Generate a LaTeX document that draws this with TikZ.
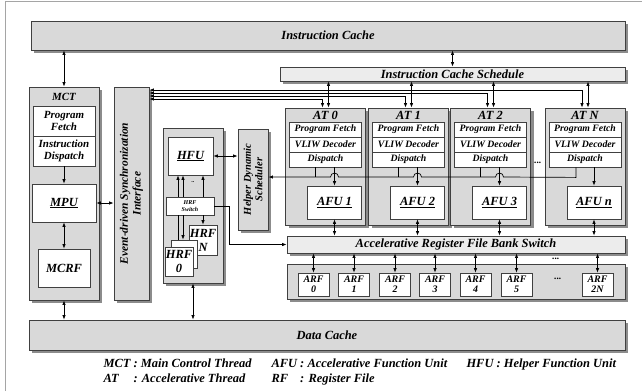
\documentclass[tikz,border=0pt]{standalone}
\usepackage{fontspec}
\setmainfont{Liberation Serif}
\usetikzlibrary{shadows,calc,arrows.meta}

\definecolor{boxc}{RGB}{217,217,217}
\definecolor{lightc}{RGB}{236,236,236}
\definecolor{linec}{RGB}{64,64,64}
\definecolor{shadowc}{RGB}{140,140,140}
\definecolor{framec}{RGB}{165,165,165}

\begin{document}
\begin{tikzpicture}[
    x=1bp, y=-1bp,
    graybox/.style={draw=linec, fill=boxc, line width=0.9pt, inner sep=0pt, drop shadow={shadow xshift=3bp, shadow yshift=-3bp, fill=shadowc, opacity=1}},
    lightbox/.style={graybox, fill=lightc},
    whitebox/.style={draw=linec, fill=white, line width=0.8pt, inner sep=0pt, align=center},
    bigtxt/.style={font=\bfseries\itshape\fontsize{12.5}{14}\selectfont},
    mcttxt/.style={font=\bfseries\itshape\fontsize{11}{12.5}\selectfont},
    attxt/.style={font=\bfseries\itshape\fontsize{9.8}{11}\selectfont},
    sidetxt/.style={font=\bfseries\itshape\fontsize{11.5}{13}\selectfont},
    hdstxt/.style={font=\bfseries\itshape\fontsize{10.5}{11.5}\selectfont},
    arftxt/.style={font=\bfseries\itshape\fontsize{10}{10}\selectfont},
    swtxt/.style={font=\bfseries\itshape\fontsize{6}{6.5}\selectfont},
    arrow/.style={-{Latex[length=4.5bp,width=3.5bp]}, line width=0.7pt},
    darrow/.style={{Latex[length=4.5bp,width=3.5bp]}-{Latex[length=4.5bp,width=3.5bp]}, line width=0.7pt}
]
    \useasboundingbox (0,0) rectangle (642,391);
    \draw[framec] (5,391) -- (5,1) -- (642,1);

    % caches
    \node[graybox, bigtxt, minimum width=594bp, minimum height=29bp] (icache) at (328,35.5) {Instruction Cache};
    \node[lightbox, bigtxt, minimum width=345bp, minimum height=14bp] (ics) at (452.5,74) {Instruction Cache Schedule};
    \node[graybox, bigtxt, minimum width=596bp, minimum height=30bp] (dc) at (327,335) {Data Cache};

    % main control thread
    \node[graybox, minimum width=70bp, minimum height=213bp] (mct) at (64,193.5) {};
    \node[mcttxt] (mctt) at (64,97) {MCT};
    \node[whitebox, mcttxt, minimum width=62bp, minimum height=30bp] (mctpf) at (64,121) {Program\\Fetch};
    \node[whitebox, mcttxt, minimum width=62bp, minimum height=30bp] (mctid) at (64,151) {Instruction\\Dispatch};
    \node[whitebox, bigtxt, minimum width=64bp, minimum height=38bp] (mpu) at (64,203) {\underline{MPU}};
    \node[whitebox, bigtxt, minimum width=52bp, minimum height=38bp] (mcrf) at (64,268) {MCRF};

    \node[graybox, minimum width=35bp, minimum height=213bp] (sync) at (131.5,193.5) {};
    \node[sidetxt, rotate=90, align=center] (synct) at (sync.center) {Event-driven Synchronization\\Interface};

    % helper
    \node[graybox, minimum width=60bp, minimum height=155bp] (hfuo) at (193,205.5) {};
    \node[whitebox, bigtxt, minimum width=45bp, minimum height=38bp] (hfu) at (190.5,156) {\underline{HFU}};
    \node[whitebox, swtxt, minimum width=48bp, minimum height=18bp] (hrfsw) at (190,206) {HRF\\Switch};
    \node[whitebox, bigtxt, minimum width=28bp, minimum height=30bp] (hrfn) at (203,240) {HRF\\N};
    \node[whitebox, minimum width=26bp, minimum height=28bp] (hrfb) at (184,254) {};
    \node[whitebox, bigtxt, minimum width=28bp, minimum height=29bp] (hrf0) at (179,261.5) {HRF\\0};
    \node[graybox, minimum width=30bp, minimum height=101bp] (hds) at (253,179.5) {};
    \node[hdstxt, rotate=90, align=center] (hdst) at (hds.center) {Helper Dynamic\\Scheduler};

    % register files
    \node[lightbox, bigtxt, minimum width=338bp, minimum height=17bp] (bsw) at (456,244.5) {Accelerative Register File Bank Switch};
    \node[graybox, minimum width=338bp, minimum height=35bp] (arfbank) at (456,281.5) {};
    \foreach \i/\cx in {0/313.5, 1/354, 2/395, 3/435, 4/475.5, 5/516.5, 2N/597.5} {
        \node[whitebox, arftxt, minimum width=31bp, minimum height=23bp] (arf\i) at (\cx,284.5) {ARF\\\i};
        \draw[darrow] (arf\i.north) -- (arf\i.north |- bsw.south);
    }
    \node[attxt] (adots) at (558,279) {...};
    \node[attxt, inner sep=0pt] (sdots) at (556,258.5) {...};

    % accelerative threads
    \foreach \i/\cx/\at/\afu in {0/325.5/AT 0/AFU 1, 1/408.5/AT 1/AFU 2, 2/490.5/AT 2/AFU 3, 3/585/AT N/AFU n} {
        \node[graybox, minimum width=80bp, minimum height=117bp] (at\i) at (\cx,166.5) {};
        \node[bigtxt] (att\i) at (\cx,115) {\at};
        \node[whitebox, attxt, minimum width=72bp, minimum height=15bp] (pf\i) at (\cx,129.5) {Program Fetch};
        \node[whitebox, attxt, minimum width=72bp, minimum height=15bp] (vd\i) at (\cx,144.5) {VLIW Decoder};
        \node[whitebox, attxt, minimum width=72bp, minimum height=15bp] (dp\i) at (\cx,159.5) {Dispatch};
        \node[whitebox, bigtxt, minimum width=54bp, minimum height=33bp] (afu\i) at (\cx+9,202.5) {\underline{\afu}};
        \draw[arrow] (dp\i.south -| afu\i) -- (afu\i.north);
        \draw[darrow] (afu\i.south) -- (afu\i.south |- bsw.north);
        \draw[darrow] ([xshift=3bp]at\i.north |- ics.south) -- ([xshift=3bp]at\i.north);
    }
    \node[attxt] (ddots) at (538,163) {...};

    % connections
    \draw[darrow] (icache.south -| ics.north) -- (ics.north);
    \draw[darrow] (icache.south -| mct.north) -- (mct.north);
    \draw[arrow] (mctid.south) -- (mpu.north);
    \draw[darrow] (mpu.south) -- (mcrf.north);
    \draw[darrow] (mpu.east) -- (mpu.east -| sync.west);
    \draw[darrow] (mct.south) -- (mct.south |- dc.north);
    \draw[darrow] (hfuo.south) -- (hfuo.south |- dc.north);
    \draw[darrow] (hfu.east) -- (hfu.east -| hds.west);

    \draw[darrow] (sync.east |- 0,90) -| ([xshift=-3bp]at3.north);
    \draw[darrow] (sync.east |- 0,93) -| ([xshift=-3bp]at2.north);
    \draw[darrow] (sync.east |- 0,96) -| ([xshift=-3bp]at1.north);
    \draw[darrow] (sync.east |- 0,99) -| ([xshift=-3bp]at0.north);

    \draw[line width=0.7pt] ([xshift=-10bp]dp0.south) -- ++(0,10);
    \draw[line width=0.7pt] ([xshift=-10bp]dp1.south) -- ++(0,10);
    \draw[line width=0.7pt] ([xshift=-10bp]dp2.south) -- ++(0,10);
    \draw[arrow] ([xshift=-9bp]dp3.south) -- ++(0,10)
        -- ($(afu2.north |- 0,177)+(4,0)$) arc[start angle=0, end angle=180, radius=4bp]
        -- ($(afu1.north |- 0,177)+(4,0)$) arc[start angle=0, end angle=180, radius=4bp]
        -- ($(afu0.north |- 0,177)+(4,0)$) arc[start angle=0, end angle=180, radius=4bp]
        -- (hds.east |- 0,177);

    \draw[arrow] (hrfsw.north -| 178,0) -- (hfu.south -| 178,0);
    \draw[arrow] (hrfsw.north -| 183,0) -- (hfu.south -| 183,0);
    \draw[arrow] (hrfsw.north -| 203,0) -- (hfu.south -| 203,0);
    \node[swtxt] (hdots) at (193,182) {..};
    \draw[line width=0.7pt] (hrfsw.south -| 178,0) -- (hrfb.north -| 178,0);
    \draw[arrow] (hrfsw.south -| 183,0) -- (hrfb.north -| 183,0);
    \draw[arrow] (hrfsw.south -| 203,0) -- (hrfn.north -| 203,0);
    \draw[arrow] (hrfsw.east) -- ++(15,0) |- (bsw.west);

    % legend
    \node[bigtxt, anchor=base west] (lg1) at (100,367) {MCT : Main Control Thread};
    \node[bigtxt, anchor=base west] (lg2) at (100,382) {\makebox[0pt][l]{AT}\phantom{MCT} : Accelerative Thread};
    \node[bigtxt, anchor=base west] (lg3) at (268,367) {AFU : Accelerative Function Unit};
    \node[bigtxt, anchor=base west] (lg4) at (268,382) {\makebox[0pt][l]{RF}\phantom{AFU} : Register File};
    \node[bigtxt, anchor=base west] (lg5) at (463,367) {HFU : Helper Function Unit};
\end{tikzpicture}
\end{document}
